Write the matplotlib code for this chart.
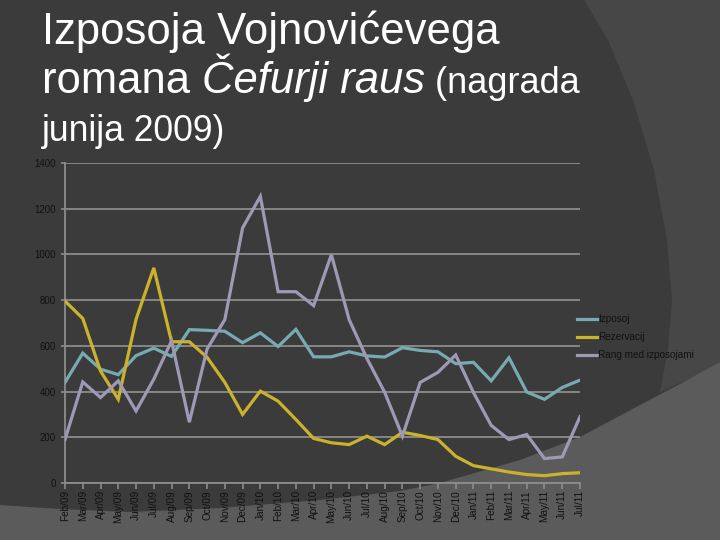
import matplotlib
matplotlib.use("Agg")
import matplotlib.pyplot as plt
from matplotlib.patches import Polygon

# data
months = ['Feb/09', 'Mar/09', 'Apr/09', 'May/09', 'Jun/09', 'Jul/09', 'Aug/09', 'Sep/09',
          'Oct/09', 'Nov/09', 'Dec/09', 'Jan/10', 'Feb/10', 'Mar/10', 'Apr/10', 'May/10',
          'Jun/10', 'Jul/10', 'Aug/10', 'Sep/10', 'Oct/10', 'Nov/10', 'Dec/10', 'Jan/11',
          'Feb/11', 'Mar/11', 'Apr/11', 'May/11', 'Jun/11', 'Jul/11']
izposoj = [440, 568, 498, 474, 557, 590, 554, 671, 668, 664, 614, 657, 597, 672, 552,
           552, 574, 556, 551, 592, 580, 574, 522, 528, 447, 548, 398, 366, 418, 450]
rezervacij = [796, 720, 490, 366, 716, 941, 618, 618, 550, 440, 300, 402, 358, 278, 195,
              176, 168, 205, 168, 222, 208, 190, 117, 76, 62, 48, 37, 32, 41, 45]
rang = [190, 442, 374, 447, 315, 454, 622, 266, 586, 715, 1116, 1254, 837, 837, 776,
        999, 715, 545, 397, 205, 440, 484, 560, 396, 252, 190, 212, 107, 114, 290]
series_names = ['Izposoj', 'Rezervacij', 'Rang med izposojami']
yticks = [0, 200, 400, 600, 800, 1000, 1200, 1400]

plt.rcParams['font.family'] = ['Liberation Sans', 'DejaVu Sans']

fig = plt.figure(figsize=(7.2, 5.4), dpi=100)
fig.patch.set_facecolor('#3b3b3b')

# slide background shapes (figure pixel coords)
W, H = 720, 540
def px(pts):
    return [(x / W, 1 - y / H) for x, y in pts]

right_band = px([(584, 0), (608, 40), (633, 100), (654, 170), (667, 240), (672, 300),
                 (668, 350), (660, 392), (720, 365), (720, 0)])
fig.patches.append(Polygon(right_band, closed=True, transform=fig.transFigure,
                           facecolor='#474747', edgecolor='none', zorder=-2))
bottom = px([(0, 505), (60, 509), (130, 512), (220, 508), (320, 500), (400, 491),
             (440, 483), (520, 460), (580, 437), (640, 405), (680, 384), (720, 362),
             (720, 540), (0, 540)])
fig.patches.append(Polygon(bottom, closed=True, transform=fig.transFigure,
                           facecolor='#5b5b5b', edgecolor='none', zorder=-2))

ax = fig.add_axes([65 / W, 1 - 483 / H, (580 - 65) / W, (483 - 163) / H])
ax.set_facecolor('none')

x = list(range(len(months)))
colors = ['#78aab2', '#cbb22c', '#9e99b4']
for vals, name, c in zip([izposoj, rezervacij, rang], series_names, colors):
    ax.plot(x, vals, color=c, lw=2.3, label=name, solid_joinstyle='miter', zorder=3)

ax.set_xlim(0, len(months) - 1)
ax.set_ylim(0, 1400)
ax.set_yticks(yticks)
ax.set_xticks(x)
ax.set_xticklabels(months, rotation=90, fontsize=7.2, color='#111111')
ax.tick_params(axis='y', labelsize=7, labelcolor='#111111', color='#8c8c8c', length=3, width=1.2)
ax.tick_params(axis='x', color='#8c8c8c', length=4, width=1.2, pad=1)
ax.grid(axis='y', color='#8c8c8c', lw=1.3, zorder=1)
for s in ['top', 'right']:
    ax.spines[s].set_visible(False)
for s in ['left', 'bottom']:
    ax.spines[s].set_color('#8c8c8c')
    ax.spines[s].set_linewidth(1.3)

leg = ax.legend(loc='upper left', bbox_to_anchor=(577 / W, 1 - 314 / H),
                bbox_transform=fig.transFigure, frameon=False, fontsize=7.2,
                handlelength=2.0, handletextpad=0.15, labelspacing=0.8,
                borderpad=0, borderaxespad=0)
for t in leg.get_texts():
    t.set_color('#111111')

# title with mixed styles
fig.canvas.draw()
r = fig.canvas.get_renderer()

def put(xp, yp, s, size, style='normal'):
    t = fig.text(xp / W, 1 - yp / H, s, color='white', fontsize=size, style=style,
                 va='baseline', ha='left')
    bb = t.get_window_extent(renderer=r)
    return xp + bb.width

put(42, 44, 'Izposoja Vojnovićevega', 31.4)
xp = put(42, 93, 'romana ', 31.4)
xp = put(xp, 93, 'Čefurji raus', 31.4, 'italic')
put(xp, 93, ' (nagrada', 26)
put(42, 141, 'junija 2009)', 25.6)

fig.savefig('out.png', dpi=100, facecolor=fig.get_facecolor())
